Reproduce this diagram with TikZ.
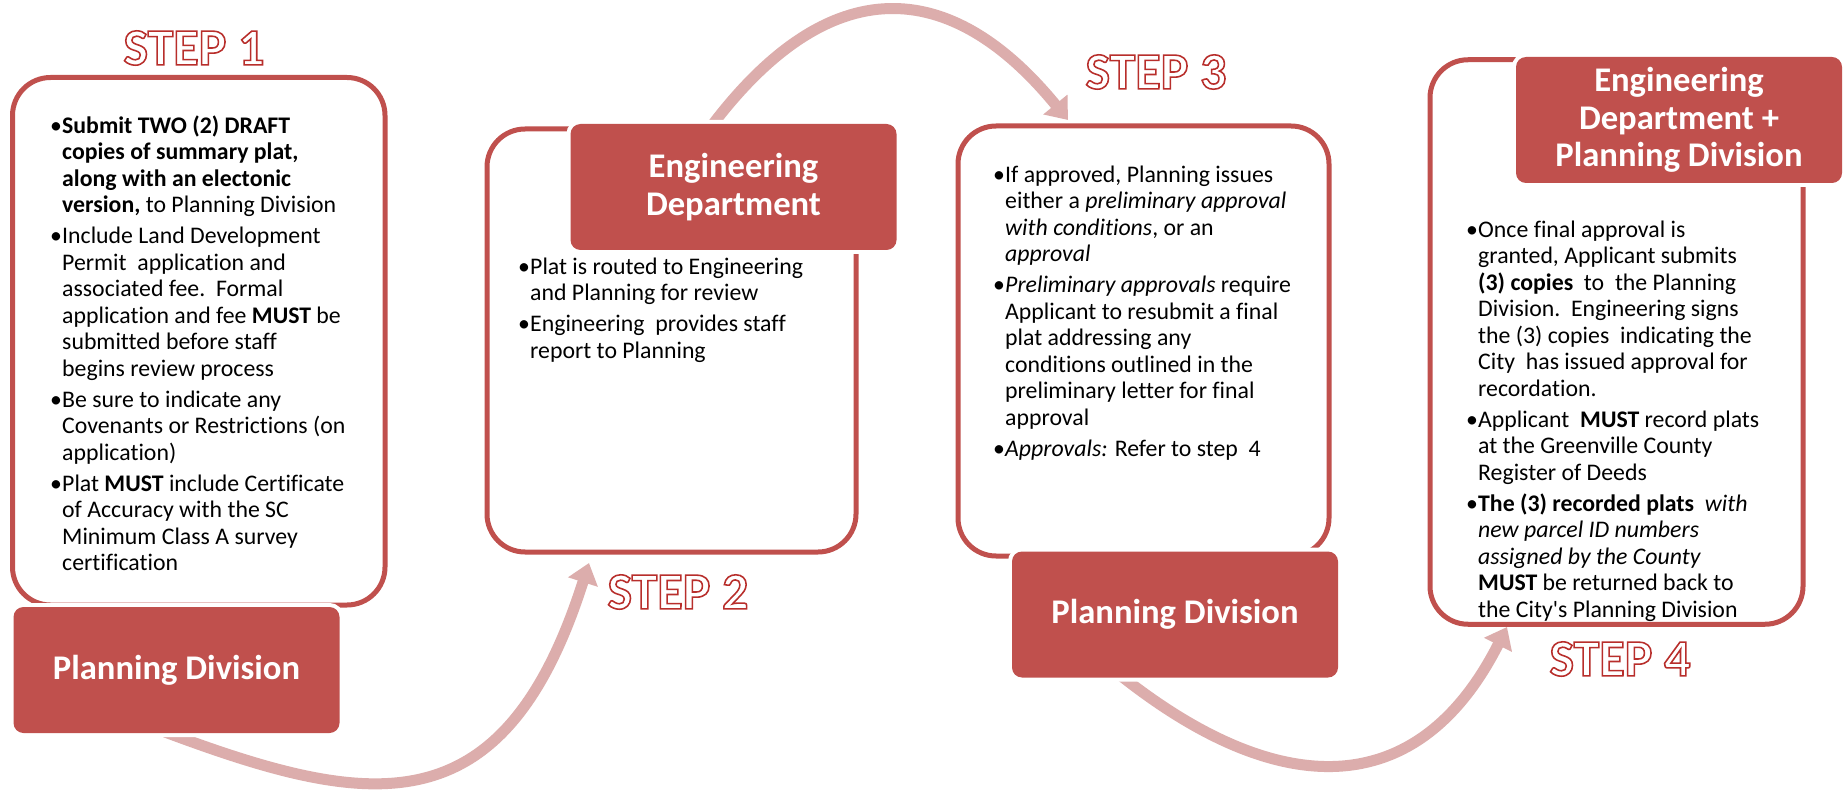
\documentclass[tikz,border=0pt]{standalone}
\usepackage{fontspec}
\setmainfont{Carlito}[Ligatures=NoCommon]
\newfontfamily\stepfont{Carlito}[BoldFeatures={FakeBold=3}]
\usetikzlibrary{arrows.meta}
\definecolor{accent}{HTML}{C0504D}
\definecolor{arcpink}{HTML}{DCADAC}
\newcommand\stepoutline{\special{pdf:literal direct 0.72 0.18 0.17 RG}}
\newcommand\bu{\makebox[12pt][l]{\textbullet}}
\newcommand\gap{\\[4.5pt]}
\tikzset{
  outbox/.style={draw=accent, line width=5pt, rounded corners=38pt, inner sep=0pt},
  headbox/.style={fill=accent, rounded corners=10pt, inner sep=0pt, text=white,
    minimum width=326pt, minimum height=126pt,
    font=\fontsize{34.6}{37.5}\selectfont\bfseries, align=center,
    preaction={draw=white, line width=8pt}},
  body/.style={anchor=north west, inner sep=0pt, font=\fontsize{23.8}{26.5}\selectfont},
  flowarc/.style={draw=arcpink, line width=11pt, -{Triangle[length=20pt,width=30pt]}},
  steplabel/.style={font=\fontsize{52}{60}\stepfont\bfseries, text=white, inner sep=0pt},
}
\begin{document}
\begin{tikzpicture}[x=1pt,y=-1pt]
\useasboundingbox[fill=white] (0,0) rectangle (1847,794);
% connectors (curved arrows)
\coordinate (a1s) at (165,732);
\coordinate (a1e) at (589,563);
\coordinate (a2s) at (710,128);
\coordinate (a2e) at (1068,120);
\coordinate (a3s) at (1120,675);
\coordinate (a3e) at (1507,627);
\draw[flowarc] (a1s) .. controls (371,809) and (504,830) .. (a1e);
\draw[flowarc] (a2s) .. controls (830,-32) and (951,-23) .. (a2e);
\draw[flowarc] (a3s) .. controls (1276,799) and (1417,805) .. (a3e);
% outline boxes
\node[outbox, minimum width=372.5pt, minimum height=527.5pt] (b1) at (198.75,341.25) {};
\node[outbox, minimum width=369pt, minimum height=423pt] (b2) at (671.5,340.5) {};
\node[outbox, minimum width=371pt, minimum height=430pt] (b3) at (1143.5,341) {};
\node[outbox, minimum width=373pt, minimum height=564.5pt] (b4) at (1616.5,342) {};
% header boxes
\node[headbox] (h1) at (176.5,670) {Planning Division};
\node[headbox] (h2) at (733.5,187) {Engineering\\Department};
\node[headbox] (h3) at (1175,614.5) {Planning Division};
\node[headbox] (h4) at (1679,120) {Engineering\\Department +\\Planning Division};
% body texts
\node[body] (t1) at (50,114.5) {\begin{tabular}{@{}l@{}l@{}}
\bu & \textbf{Submit TWO (2) DRAFT}\\
 & \textbf{copies of summary plat,}\\
 & \textbf{along with an electonic}\\
 & \textbf{version,} to Planning Division\gap
\bu & Include Land Development\\
 & Permit\ \ application and\\
 & associated fee.\ \ Formal\\
 & application and fee \textbf{MUST} be\\
 & submitted before staff\\
 & begins review process\gap
\bu & Be sure to indicate any\\
 & Covenants or Restrictions (on\\
 & application)\gap
\bu & Plat \textbf{MUST} include Certificate\\
 & of Accuracy with the SC\\
 & Minimum Class A survey\\
 & certification
\end{tabular}};
\node[body] (t2) at (518,255.5) {\begin{tabular}{@{}l@{}l@{}}
\bu & Plat is routed to Engineering\\
 & and Planning for review\gap
\bu & Engineering\ \ provides staff\\
 & report to Planning
\end{tabular}};
\node[body] (t3) at (993,163.5) {\begin{tabular}{@{}l@{}l@{}}
\bu & If approved, Planning issues\\
 & either a \textit{preliminary approval}\\
 & \textit{with conditions}, or an\\
 & \textit{approval}\gap
\bu & \textit{Preliminary approvals} require\\
 & Applicant to resubmit a final\\
 & plat addressing any\\
 & conditions outlined in the\\
 & preliminary letter for final\\
 & approval\gap
\bu & \textit{Approvals:} Refer to step\ \ 4
\end{tabular}};
\node[body] (t4) at (1466,218.5) {\begin{tabular}{@{}l@{}l@{}}
\bu & Once final approval is\\
 & granted, Applicant submits\\
 & \textbf{(3) copies}\ \ to\ \ the Planning\\
 & Division.\ \ Engineering signs\\
 & the (3) copies\ \ indicating the\\
 & City\ \ has issued approval for\\
 & recordation.\gap
\bu & Applicant\ \ \textbf{MUST} record plats\\
 & at the Greenville County\\
 & Register of Deeds\gap
\bu & \textbf{The (3) recorded plats}\ \ \textit{with}\\
 & \textit{new parcel ID numbers}\\
 & \textit{assigned by the County}\\
 & \textbf{MUST} be returned back to\\
 & the City\textquotesingle s Planning Division
\end{tabular}};
% step labels
\node[steplabel] (s1) at (194,48) {\stepoutline STEP 1};
\node[steplabel] (s2) at (678,592) {\stepoutline STEP 2};
\node[steplabel] (s3) at (1156,72) {\stepoutline STEP 3};
\node[steplabel] (s4) at (1620,659) {\stepoutline STEP 4};
\end{tikzpicture}
\end{document}
